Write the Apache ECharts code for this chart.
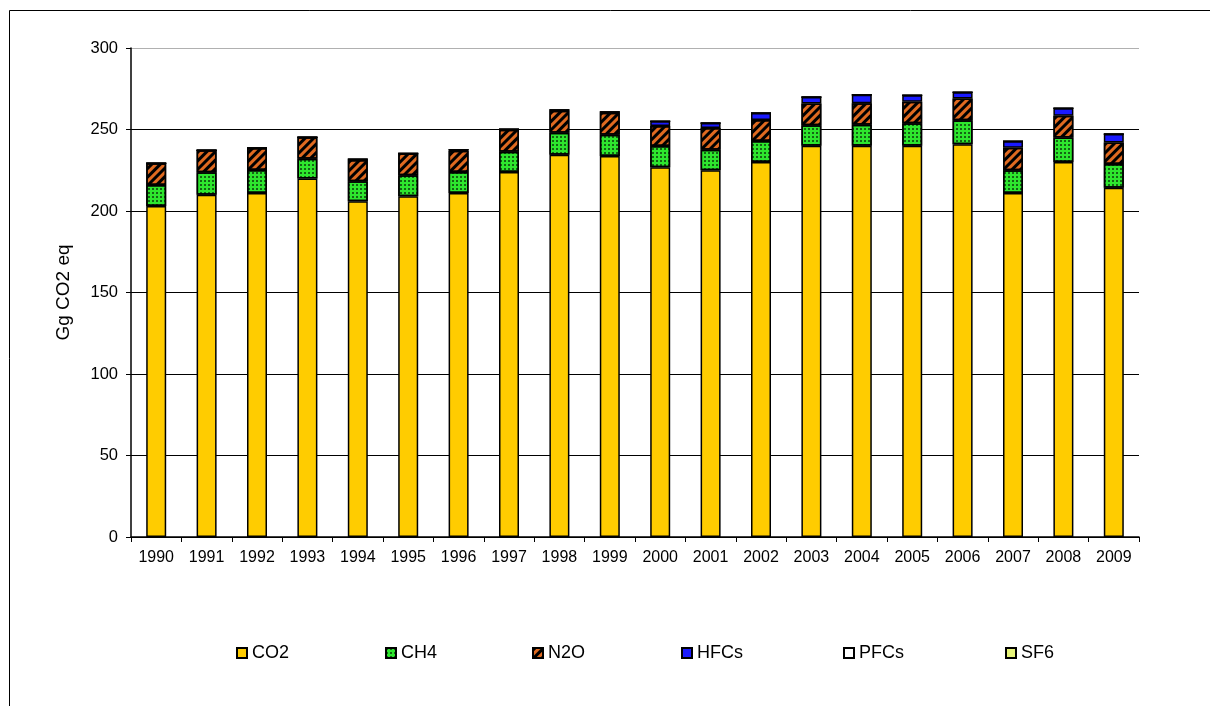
<!DOCTYPE html>
<html>
<head>
<meta charset="utf-8">
<script src="https://cdn.jsdelivr.net/npm/echarts@6/dist/echarts.min.js"></script>
<style>
html,body{margin:0;padding:0;background:#fff;}
#chart{width:1210px;height:706px;}
</style>
</head>
<body>
<div id="chart"></div>
<script>
var years = ['1990','1991','1992','1993','1994','1995','1996','1997','1998','1999','2000','2001','2002','2003','2004','2005','2006','2007','2008','2009'];
var co2  = [203, 210, 211, 220, 206, 209, 211, 224, 234.5, 233.7, 226.8, 225, 230, 240, 240, 240, 241, 211, 230, 214.3];
var ch4  = [13, 13.7, 14.2, 12, 12.2, 13, 13, 12.3, 13.5, 13.1, 13.1, 12.6, 13, 12.6, 12.9, 13.8, 14.7, 14, 15.1, 14.5];
var n2o  = [13.3, 13.5, 13.4, 13.2, 13.1, 13.2, 13.0, 13.5, 13.5, 13.5, 12.2, 13.3, 12.9, 13.4, 13.2, 13.2, 13.3, 13.8, 13.3, 13.3];
var hfcs = [0, 0, 0, 0, 0.5, 0, 0.6, 0.3, 0.5, 0.5, 2.9, 3.1, 4.2, 4.0, 5.2, 4.0, 3.9, 4.0, 4.7, 5.1];
var pfcs = [0, 0, 0, 0, 0, 0, 0, 0, 0, 0, 0, 0, 0, 0, 0, 0, 0, 0, 0, 0];
var sf6  = [0, 0, 0, 0, 0, 0, 0, 0, 0, 0, 0, 0, 0, 0, 0, 0, 0, 0, 0, 0];
var yTicks = [0, 50, 100, 150, 200, 250, 300];

var FONT = '"Liberation Sans", Arial, sans-serif';
var chart = echarts.init(document.getElementById('chart'), null, {renderer:'canvas'});

function bar(name, data, color, decal) {
  var s = {
    name: name, type: 'bar', stack: 'total', data: data, barWidth: 20,
    itemStyle: { color: color, borderColor: '#000', borderWidth: 1.5 },
    emphasis: { disabled: true }
  };
  if (decal) s.itemStyle.decal = decal;
  return s;
}

var dotDecal = { symbol: 'circle', symbolSize: 1, color: 'rgba(0,0,0,0.75)', dashArrayX: [2, 2], dashArrayY: [2, 2] };
var stripeDecal = { symbol: 'rect', symbolSize: 1, color: '#000', dashArrayX: [1, 0], dashArrayY: [2.5, 3], rotation: -Math.PI / 4 };

var names = ['CO2','CH4','N2O','HFCs','PFCs','SF6'];
var legendLeft = [231, 380, 527, 676, 838, 1000];
var legends = names.map(function (n, i) {
  return {
    data: [n], left: legendLeft[i], top: 639, itemWidth: 10, itemHeight: 10, itemGap: 6,
    icon: 'rect', selectedMode: false,
    textStyle: { fontFamily: FONT, fontSize: 18, color: '#000' }
  };
});

chart.setOption({
  animation: false,
  backgroundColor: '#fff',
  graphic: [{
    type: 'rect', shape: { x: 9.5, y: 10.5, width: 1400, height: 900 },
    style: { fill: 'none', stroke: '#000', lineWidth: 1 }, silent: true
  }],
  legend: legends,
  grid: { left: 131, right: 71, top: 48, bottom: 169 },
  xAxis: {
    type: 'category', data: years, boundaryGap: true,
    axisLine: { lineStyle: { color: '#000', width: 1.5 } },
    axisTick: { show: true, alignWithLabel: false, length: 5, lineStyle: { color: '#000' } },
    axisLabel: { color: '#000', fontFamily: FONT, fontSize: 16, margin: 13, interval: 0 }
  },
  yAxis: {
    type: 'value', min: yTicks[0], max: yTicks[yTicks.length - 1], interval: 50,
    name: 'Gg CO2 eq', nameLocation: 'middle', nameGap: 58, nameRotate: 90,
    nameTextStyle: { color: '#000', fontFamily: FONT, fontSize: 19 },
    axisLine: { show: true, lineStyle: { color: '#000', width: 1.5 } },
    axisTick: { show: true, length: 5, lineStyle: { color: '#000' } },
    axisLabel: { color: '#000', fontFamily: FONT, fontSize: 16.5, margin: 13 },
    splitLine: { show: true, lineStyle: { color: ['#000','#000','#000','#000','#000','#000','#b0b0b0'], width: 1.2 } }
  },
  series: [
    bar('CO2', co2, '#FFCC00'),
    bar('CH4', ch4, '#2EE62E', dotDecal),
    bar('N2O', n2o, '#E06A20', stripeDecal),
    bar('HFCs', hfcs, '#1A1AFF'),
    bar('PFCs', pfcs, '#FFFFFF'),
    bar('SF6', sf6, '#E8F57A')
  ]
});
</script>
</body>
</html>
